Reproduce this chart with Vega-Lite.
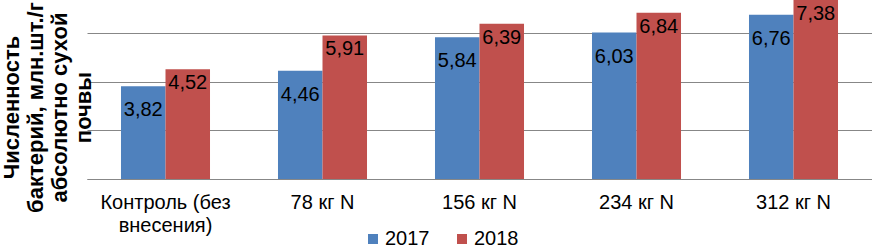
{
  "$schema": "https://vega.github.io/schema/vega-lite/v6.json",
  "width": 785,
  "height": 179,
  "autosize": {"type": "none"},
  "padding": {"left": 87, "top": 0, "right": 0, "bottom": 69},
  "config": {
    "view": {"stroke": null},
    "font": "Liberation Sans",
    "locale": {"number": {"decimal": ",", "thousands": " ", "grouping": [3], "currency": ["", ""]}}
  },
  "data": {
    "values": [
      {"group": "Контроль (без внесения)", "year": "2017", "value": 3.82},
      {"group": "Контроль (без внесения)", "year": "2018", "value": 4.52},
      {"group": "78 кг N", "year": "2017", "value": 4.46},
      {"group": "78 кг N", "year": "2018", "value": 5.91},
      {"group": "156 кг N", "year": "2017", "value": 5.84},
      {"group": "156 кг N", "year": "2018", "value": 6.39},
      {"group": "234 кг N", "year": "2017", "value": 6.03},
      {"group": "234 кг N", "year": "2018", "value": 6.84},
      {"group": "312 кг N", "year": "2017", "value": 6.76},
      {"group": "312 кг N", "year": "2018", "value": 7.38}
    ]
  },
  "encoding": {
    "x": {
      "field": "group",
      "type": "nominal",
      "sort": null,
      "scale": {"paddingInner": 0.433, "paddingOuter": 0.2165},
      "axis": {
        "title": null,
        "ticks": false,
        "domainColor": "#878787",
        "domainWidth": 1,
        "labelAngle": 0,
        "labelFontSize": 20,
        "labelColor": "#000000",
        "labelPadding": 13,
        "labelLineHeight": 23,
        "labelExpr": "datum.value == 'Контроль (без внесения)' ? ['Контроль (без', 'внесения)'] : datum.value"
      }
    },
    "xOffset": {"field": "year", "type": "nominal", "scale": {"paddingInner": 0, "paddingOuter": 0}},
    "y": {
      "field": "value",
      "type": "quantitative",
      "scale": {"domain": [0, 7.37], "nice": false, "zero": true},
      "axis": {
        "title": ["Численность", "бактерий, млн.шт./г", "абсолютно сухой", "почвы"],
        "labels": false,
        "ticks": false,
        "domain": false,
        "values": [0, 2, 4, 6],
        "grid": true,
        "gridColor": "#878787",
        "gridWidth": 1,
        "titleFontSize": 22,
        "titleFontWeight": "bold",
        "titleColor": "#000000",
        "titleAngle": -90,
        "titleX": -86,
        "titleY": 107,
        "titleAlign": "center",
        "titleBaseline": "top",
        "titleLineHeight": 24
      }
    }
  },
  "layer": [
    {
      "mark": {"type": "bar"},
      "encoding": {
        "color": {
          "field": "year",
          "type": "nominal",
          "scale": {"domain": ["2017", "2018"], "range": ["#4F81BD", "#C0504D"]},
          "legend": {
            "title": null,
            "orient": "none",
            "legendX": 276,
            "legendY": 229,
            "direction": "horizontal",
            "symbolType": "square",
            "symbolSize": 100,
            "symbolStrokeWidth": 0,
            "labelFontSize": 20,
            "labelColor": "#000000",
            "labelOffset": 2,
            "columnPadding": 22
          }
        }
      }
    },
    {
      "transform": [{"filter": "datum.year == '2017'"}],
      "mark": {"type": "text", "dy": 24, "fontSize": 20, "color": "#000000", "baseline": "middle"},
      "encoding": {"text": {"field": "value", "type": "quantitative", "format": ".2f"}}
    },
    {
      "transform": [{"filter": "datum.year == '2018'"}],
      "mark": {"type": "text", "dy": 14, "fontSize": 20, "color": "#000000", "baseline": "middle"},
      "encoding": {"text": {"field": "value", "type": "quantitative", "format": ".2f"}}
    }
  ]
}
